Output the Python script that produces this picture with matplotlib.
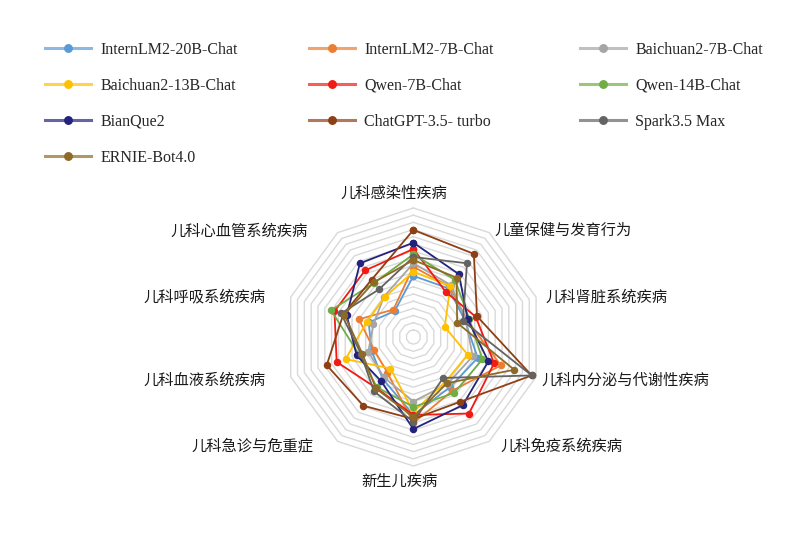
import numpy as np
import matplotlib
matplotlib.use('Agg')
import matplotlib.pyplot as plt
from matplotlib.lines import Line2D
from matplotlib import colors as mcolors

plt.rcParams['font.family'] = ['Liberation Serif', 'Noto Sans CJK SC', 'DejaVu Sans']

# ---------------- data ----------------
categories = ['儿科感染性疾病', '儿童保健与发育行为', '儿科肾脏系统疾病', '儿科内分泌与代谢性疾病',
              '儿科免疫系统疾病', '新生儿疾病', '儿科急诊与危重症', '儿科血液系统疾病',
              '儿科呼吸系统疾病', '儿科心血管系统疾病']

model_names = ['InternLM2-20B-Chat', 'InternLM2-7B-Chat', 'Baichuan2-7B-Chat',
               'Baichuan2-13B-Chat', 'Qwen-7B-Chat', 'Qwen-14B-Chat',
               'BianQue2', 'ChatGPT-3.5- turbo', 'Spark3.5 Max', 'ERNIE-Bot4.0']

internlm2_20b = [42.6, 41.9, 37.7, 47.2, 43.3, 54.4, 36.3, 30.7, 32.8, 22.3]
internlm2_7b  = [49.0, 43.3, 39.1, 64.2, 46.3, 60.0, 30.8, 28.9, 39.9, 23.7]
baichuan2_7b  = [51.4, 44.7, 38.4, 43.5, 40.5, 45.0, 34.9, 33.1, 29.3, 34.9]
baichuan2_13b = [45.6, 43.8, 23.0, 39.8, 38.4, 52.3, 27.2, 49.7, 34.2, 34.2]
qwen_7b       = [61.4, 38.7, 45.7, 59.2, 66.0, 54.4, 44.0, 56.3, 57.9, 57.4]
qwen_14b      = [57.7, 49.3, 41.0, 50.6, 48.3, 48.8, 43.3, 39.8, 60.4, 46.7]
bianque2      = [65.8, 54.1, 39.8, 55.0, 58.7, 64.2, 38.2, 41.6, 48.9, 63.5]
chatgpt35     = [74.7, 71.7, 46.7, 86.8, 55.8, 57.2, 59.3, 63.6, 51.4, 49.5]
spark35       = [55.8, 63.6, 36.3, 86.8, 35.3, 59.1, 46.9, 38.4, 53.1, 41.0]
ernie40       = [53.7, 51.2, 32.1, 74.0, 39.8, 55.8, 44.4, 37.5, 50.7, 47.1]

series = [internlm2_20b, internlm2_7b, baichuan2_7b, baichuan2_13b, qwen_7b,
          qwen_14b, bianque2, chatgpt35, spark35, ernie40]

series_colors = ['#5B9BD5', '#ED7D31', '#A5A5A5', '#FFC000', '#F21A12',
                 '#70AD47', '#23237E', '#8E3F14', '#636363', '#8F6A26']

r_max = 90
ring_step = 5

# ---------------- figure ----------------
W, H = 807, 533
fig = plt.figure(figsize=(W / 100, H / 100), dpi=100)
fig.patch.set_facecolor('white')

cx, cy, R = 413.4, 337.0, 129.0
ax = fig.add_axes([(cx - R) / W, (H - cy - R) / H, 2 * R / W, 2 * R / H], projection='polar')
ax.set_theta_offset(np.pi / 2)
ax.set_theta_direction(-1)
ax.set_ylim(0, r_max)
ax.set_axis_off()

n = len(categories)
theta = np.arange(n) * 2 * np.pi / n
theta_closed = np.append(theta, theta[0])

for v in np.arange(ring_step, r_max + 0.1, ring_step):
    ax.plot(theta_closed, [v] * (n + 1), color='#D9D9D9', lw=1.0, zorder=1, clip_on=False)

for vals, c in zip(series, series_colors):
    v = np.append(vals, vals[0])
    ax.plot(theta_closed, v, color=c, lw=1.3, marker='o', markersize=5.4,
            markeredgewidth=0, zorder=3, clip_on=False)

# ---------------- category labels ----------------
label_pos = [  # (x px, y px, ha)
    (394, 193, 'center'),
    (494, 230, 'left'),
    (545, 297, 'left'),
    (541, 380, 'left'),
    (500, 446, 'left'),
    (399, 481, 'center'),
    (313, 446, 'right'),
    (265, 380, 'right'),
    (265, 297, 'right'),
    (308, 231, 'right'),
]
for cat, (x, y, ha) in zip(categories, label_pos):
    fig.text(x / W, 1 - y / H, cat, ha=ha, va='center', fontsize=11,
             family=['Noto Sans CJK SC', 'DejaVu Sans'], color='#1A1A1A')

# ---------------- legend (3 columns) ----------------
def lighter(c, f=0.3):
    rgb = np.array(mcolors.to_rgb(c))
    return tuple(rgb + (1 - rgb) * f)

handles = [Line2D([], [], color=lighter(c), lw=2.2, marker='o', markersize=5.4,
                  markerfacecolor=c, markeredgecolor=c) for c in series_colors]

col_x = [45, 309, 580]
top_y = 41.5
for ci in range(3):
    idx = list(range(ci, len(model_names), 3))
    leg = fig.legend([handles[i] for i in idx], [model_names[i] for i in idx],
                     loc='upper left', bbox_to_anchor=(col_x[ci] / W, 1 - top_y / H),
                     frameon=False, ncol=1, numpoints=1, borderpad=0, borderaxespad=0,
                     handlelength=2.9, handletextpad=0.55, labelspacing=1.26,
                     prop={'family': 'Liberation Serif', 'size': 11.5})
    for t in leg.get_texts():
        t.set_color('#262626')

fig.savefig('out.png', dpi=100, facecolor='white')
